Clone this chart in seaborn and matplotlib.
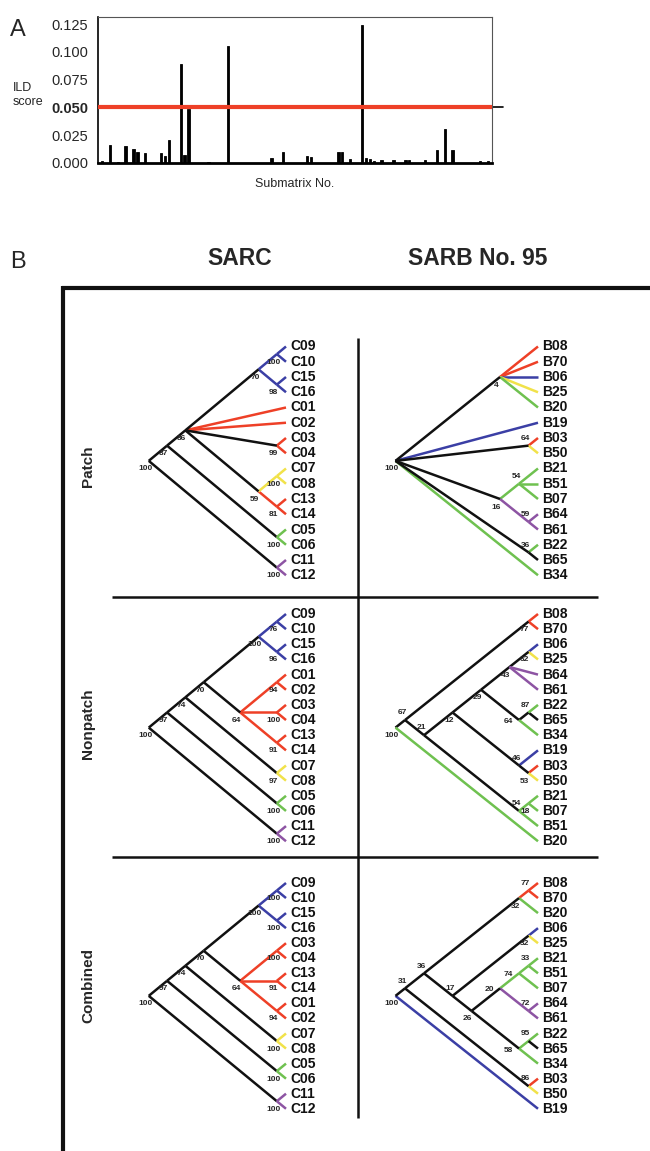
import numpy as np
import pandas as pd
import matplotlib
matplotlib.use("Agg")
import matplotlib.pyplot as plt
import seaborn as sns

sns.set_theme(style="white")
plt.rcParams["font.family"] = ["Liberation Sans", "DejaVu Sans"]

# ---------------- Panel A data ----------------
submatrix_no = [1, 3, 5, 7, 9, 10, 12, 16, 17, 18, 21, 22, 23, 28, 33, 44, 47, 53, 54,
                61, 62, 64, 67, 68, 69, 70, 72, 75, 78, 79, 83, 86, 88, 90, 97, 99]
ild_score = [0.002, 0.0165, 0.001, 0.0155, 0.0125, 0.0095, 0.009, 0.009, 0.006, 0.0205,
             0.0895, 0.0075, 0.0485, 0.001, 0.1055, 0.0045, 0.0100, 0.006, 0.005,
             0.0100, 0.0100, 0.0035, 0.1240, 0.0045, 0.0035, 0.002, 0.003, 0.003, 0.003,
             0.003, 0.003, 0.012, 0.0310, 0.012, 0.002, 0.002]
y_ticks = [0.000, 0.025, 0.050, 0.075, 0.100, 0.125]
threshold = 0.050

# ---------------- Panel B data (trees) ----------------
K, R, B, G, Y, P = "black", "red", "blue", "green", "yellow", "purple"
PAL = {"black": "#111111", "red": "#ee4027", "blue": "#3b3fa5", "green": "#6fc150",
       "yellow": "#f1e24a", "purple": "#8d54a3"}


def L(name, col):
    return (name, col)


def N(sup, col, *kids):
    return (sup, col, list(kids))


sarc_patch = N("100", K,
               N("87", K,
                 N("86", K,
                   N("70", K, N("100", B, L("C09", B), L("C10", B)),
                     N("98", B, L("C15", B), L("C16", B))),
                   L("C01", R), L("C02", R),
                   N("99", K, L("C03", R), L("C04", R)),
                   N("59", K, N("100", Y, L("C07", Y), L("C08", Y)),
                     N("81", R, L("C13", R), L("C14", R)))),
                 N("100", K, L("C05", G), L("C06", G))),
               N("100", K, L("C11", P), L("C12", P)))

sarb_patch = N("100", K,
               N("4", K, L("B08", R), L("B70", R), L("B06", B), L("B25", Y), L("B20", G)),
               L("B19", B),
               N("64", K, L("B03", R), L("B50", Y)),
               N("16", K, N("54", G, L("B21", G), L("B51", G), L("B07", G)),
                 N("59", P, L("B64", P), L("B61", P))),
               N("36", K, L("B22", G), L("B65", K)),
               L("B34", G))

sarc_nonpatch = N("100", K,
                  N("97", K,
                    N("74", K,
                      N("70", K,
                        N("100", K, N("76", B, L("C09", B), L("C10", B)),
                          N("96", B, L("C15", B), L("C16", B))),
                        N("64", K, N("94", R, L("C01", R), L("C02", R)),
                          N("100", R, L("C03", R), L("C04", R)),
                          N("91", R, L("C13", R), L("C14", R)))),
                      N("97", K, L("C07", Y), L("C08", Y))),
                    N("100", K, L("C05", G), L("C06", G))),
                  N("100", K, L("C11", P), L("C12", P)))

sarb_nonpatch = N("100", K,
                  N("67", K,
                    N("77", K, L("B08", R), L("B70", R)),
                    N("21", K,
                      N("12", K,
                        N("29", K,
                          N("43", K, N("62", K, L("B06", B), L("B25", Y)),
                            L("B64", P), L("B61", P)),
                          N("64", K, N("87", K, L("B22", G), L("B65", K)), L("B34", G))),
                        N("46", K, L("B19", B), N("53", K, L("B03", R), L("B50", Y)))),
                      N("54", K, N("18", G, L("B21", G), L("B07", G)), L("B51", G)))),
                  L("B20", G))

sarc_combined = N("100", K,
                  N("97", K,
                    N("74", K,
                      N("70", K,
                        N("100", K, N("100", B, L("C09", B), L("C10", B)),
                          N("100", B, L("C15", B), L("C16", B))),
                        N("64", K, N("100", R, L("C03", R), L("C04", R)),
                          N("91", R, L("C13", R), L("C14", R)),
                          N("94", R, L("C01", R), L("C02", R)))),
                      N("100", K, L("C07", Y), L("C08", Y))),
                    N("100", K, L("C05", G), L("C06", G))),
                  N("100", K, L("C11", P), L("C12", P)))

sarb_combined = N("100", K,
                  N("31", K,
                    N("36", K,
                      N("32", K, N("77", R, L("B08", R), L("B70", R)), L("B20", G)),
                      N("17", K,
                        N("32", K, L("B06", B), L("B25", Y)),
                        N("26", K,
                          N("20", K,
                            N("74", G, N("33", G, L("B21", G), L("B51", G)), L("B07", G)),
                            N("72", P, L("B64", P), L("B61", P))),
                          N("58", K, N("95", G, L("B22", G), L("B65", K)), L("B34", G))))),
                    N("86", K, L("B03", R), L("B50", Y))),
                  L("B19", B))

row_names = ["Patch", "Nonpatch", "Combined"]
col_names = ["SARC", "SARB No. 95"]

# label placement (style)
ABOVE = {
    "sarb_patch": {"64", "54", "36", "59"},
    "sarb_nonpatch": {"67", "21", "87", "46", "54"},
    "sarb_combined": {"77", "33", "72", "95", "86", "17", "36", "31"},
}
LEFT = {
    "sarb_nonpatch": {"64"},
    "sarb_combined": {"74", "20", "58"},
}

W, H = 650, 1151
fig = plt.figure(figsize=(W / 100, H / 100), dpi=100)


def px_rect(x0, y0, x1, y1):
    return [x0 / W, 1 - y1 / H, (x1 - x0) / W, (y1 - y0) / H]


# ---------------- overlay (frame, headings) ----------------
ov = fig.add_axes([0, 0, 1, 1])
ov.set_xlim(0, W)
ov.set_ylim(H, 0)
ov.axis("off")
ov.plot([63, 63], [286, H], color="#111111", lw=3.0, solid_capstyle="butt")
ov.plot([61.5, W], [288, 288], color="#111111", lw=3.0, solid_capstyle="butt")
for yy in (597, 857):
    ov.plot([112, 598], [yy, yy], color="#111111", lw=1.8, solid_capstyle="butt")
ov.plot([358, 358], [338, 1118], color="#111111", lw=1.8, solid_capstyle="butt")
ov.text(18, 30, "A", fontsize=17, ha="center", va="center")
ov.text(18, 262, "B", fontsize=17, ha="center", va="center")
for name, xx in zip(col_names, (240, 478)):
    ov.text(xx, 258, name, fontsize=16.5, fontweight="bold", ha="center", va="center")
for name, yy in zip(row_names, (466, 724, 985)):
    ov.text(88, yy, name, fontsize=11, fontweight="bold", rotation=90,
            ha="center", va="center")

# ---------------- Panel A ----------------
axA = fig.add_axes(px_rect(98, 17, 492, 163))
dfA = pd.DataFrame({"sub": submatrix_no, "ild": ild_score})
sns.barplot(data=dfA, x="sub", y="ild", native_scale=True, color="black",
            width=0.6, errorbar=None, saturation=1, ax=axA,
            edgecolor="black", linewidth=0.6)
axA.set_xlim(0, 100)
axA.set_ylim(0, 0.1315)
axA.axhline(threshold, color="#ee4027", lw=3.0, zorder=3)
axA.axhline(threshold, xmin=1.0, xmax=1.027, color="black", lw=1.2, clip_on=False)
axA.set_yticks(y_ticks)
axA.set_yticklabels([f"{v:.3f}" for v in y_ticks], fontsize=10.5)
for t, v in zip(axA.get_yticklabels(), y_ticks):
    if abs(v - threshold) < 1e-9:
        t.set_fontweight("bold")
axA.set_xticks(np.arange(0, 101, 10))
axA.set_xticklabels([])
axA.tick_params(axis="x", length=3, color="#bbbbbb", width=0.6)
axA.tick_params(axis="y", length=5, color="black", width=1.0, pad=2)
axA.set_xlabel("Submatrix No.", fontsize=9, labelpad=4)
axA.set_ylabel("")
for s in ("top", "right"):
    axA.spines[s].set_color("#555555")
    axA.spines[s].set_linewidth(0.8)
axA.spines["left"].set_color("black")
axA.spines["left"].set_linewidth(1.2)
axA.spines["bottom"].set_color("black")
axA.spines["bottom"].set_linewidth(2.0)
ov.text(13, 95, "ILD\nscore", fontsize=9, ha="left", va="center", linespacing=1.15)


# ---------------- Trees ----------------
def layout(tree):
    segs, leaves, labels = [], [], []
    counter = [0]

    def walk(node):
        if len(node) == 2:
            y = counter[0]
            counter[0] += 1
            leaves.append((node[0], y))
            return 0.0, float(y), y, y
        sup, col, kids = node
        res = [walk(k) for k in kids]
        lo, hi = res[0][2], res[-1][3]
        y = (lo + hi) / 2
        x = -(hi - lo) / 2
        for k, (cx, cy, _, _) in zip(kids, res):
            segs.append((x, y, cx, cy, k[1]))
        labels.append((sup, x, y))
        return x, y, lo, hi

    walk(tree)
    return segs, leaves, labels


def draw_tree(tree, key, tip_x, y0, dy, ux):
    x_lo, x_hi, y_lo, y_hi = -9.0, 3.5, -1.0, 16.0
    ax = fig.add_axes(px_rect(tip_x + x_lo * ux, y0 + y_lo * dy,
                              tip_x + x_hi * ux, y0 + y_hi * dy))
    ax.patch.set_alpha(0)
    segs, leaves, labels = layout(tree)
    rows = []
    for i, (xa, ya, xb, yb, c) in enumerate(segs):
        rows.append({"seg": i, "x": xa, "y": ya, "c": c})
        rows.append({"seg": i, "x": xb, "y": yb, "c": c})
    df = pd.DataFrame(rows)
    sns.lineplot(data=df, x="x", y="y", units="seg", estimator=None, hue="c",
                 palette=PAL, sort=False, legend=False, lw=1.8, ax=ax,
                 solid_capstyle="butt")
    for name, y in leaves:
        ax.text(0.22, y, name, fontsize=10, fontweight="bold", ha="left",
                va="center", color="#111111")
    above = ABOVE.get(key, set())
    left = LEFT.get(key, set())
    for sup, x, y in labels:
        if sup in above:
            ax.text(x - 0.15, y - 0.25, sup, fontsize=6, fontweight="bold",
                    ha="center", va="bottom")
        elif sup in left:
            ax.text(x - 0.3, y + 0.1, sup, fontsize=6, fontweight="bold",
                    ha="right", va="center")
        else:
            ax.text(x - 0.2, y + 0.3, sup, fontsize=6, fontweight="bold",
                    ha="center", va="top")
    ax.set_xlim(x_lo, x_hi)
    ax.set_ylim(y_hi, y_lo)
    ax.axis("off")
    return ax


rows_geom = [(346.5, 15.25), (614.0, 15.15), (883.0, 15.05)]
trees = [(sarc_patch, "sarc_patch", sarb_patch, "sarb_patch"),
         (sarc_nonpatch, "sarc_nonpatch", sarb_nonpatch, "sarb_nonpatch"),
         (sarc_combined, "sarc_combined", sarb_combined, "sarb_combined")]
for (y0, dy), (tc, kc, tb, kb) in zip(rows_geom, trees):
    draw_tree(tc, kc, 286, y0, dy, 18.3)
    draw_tree(tb, kb, 538, y0, dy, 19.0)

fig.savefig("out.png", dpi=100)
